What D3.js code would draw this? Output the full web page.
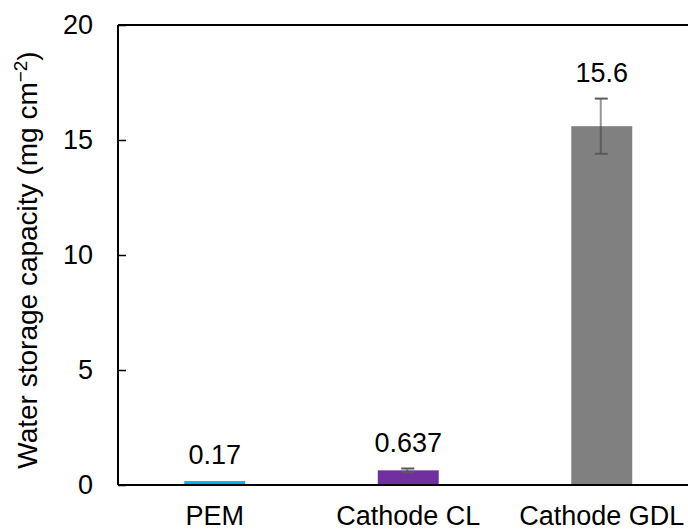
<!DOCTYPE html>
<html>
<head>
<meta charset="utf-8">
<script src="https://cdn.jsdelivr.net/npm/d3@7"></script>
<style>
  body { margin: 0; background: #fff; }
  text { font-family: Arial, "Liberation Sans", sans-serif; fill: #000; }
</style>
</head>
<body>
<div id="chart"></div>
<script>
var categories = ["PEM", "Cathode CL", "Cathode GDL"];
var values = [0.17, 0.637, 15.6];
var errors = [0, 0.08, 1.2];
var valueLabels = ["0.17", "0.637", "15.6"];
var colors = ["#00B0F0", "#7030A0", "#808080"];
var yTicks = [0, 5, 10, 15, 20];

var width = 688, height = 531;
var mLeft = 118, mTop = 25, mBottom = 485;
var fontSize = "27px";

var svg = d3.select("#chart").append("svg")
    .attr("width", width)
    .attr("height", height);

var x = d3.scaleBand()
    .domain(categories)
    .range([mLeft, mLeft + 3 * 193.5])
    .paddingInner(0.685)
    .paddingOuter(0.3425);

var y = d3.scaleLinear()
    .domain([0, 20])
    .range([mBottom, mTop]);

// bars
svg.selectAll("rect.bar")
    .data(values)
  .enter().append("rect")
    .attr("class", "bar")
    .attr("x", (d, i) => x(categories[i]))
    .attr("width", x.bandwidth())
    .attr("y", d => y(d))
    .attr("height", d => y(0) - y(d))
    .attr("fill", (d, i) => colors[i]);

// error bars
var eb = svg.selectAll("g.err")
    .data(values.map((v, i) => ({v: v, e: errors[i], c: categories[i]})).filter(d => d.e > 0))
  .enter().append("g")
    .attr("class", "err");

eb.append("line")
    .attr("x1", d => x(d.c) + x.bandwidth() / 2 - 1)
    .attr("x2", d => x(d.c) + x.bandwidth() / 2 - 1)
    .attr("y1", d => y(d.v - d.e))
    .attr("y2", d => y(d.v + d.e))
    .attr("stroke", "#404040")
    .attr("stroke-opacity", 0.55)
    .attr("stroke-width", 2);

eb.selectAll("line.cap")
    .data(d => [{c: d.c, val: d.v - d.e}, {c: d.c, val: d.v + d.e}])
  .enter().append("line")
    .attr("class", "cap")
    .attr("x1", d => x(d.c) + x.bandwidth() / 2 - 7)
    .attr("x2", d => x(d.c) + x.bandwidth() / 2 + 6)
    .attr("y1", d => y(d.val))
    .attr("y2", d => y(d.val))
    .attr("stroke", "#595959")
    .attr("stroke-width", 2);

// value labels
svg.selectAll("text.val")
    .data(values)
  .enter().append("text")
    .attr("class", "val")
    .attr("x", (d, i) => x(categories[i]) + x.bandwidth() / 2)
    .attr("y", (d, i) => y(d + errors[i]) - 17)
    .attr("text-anchor", "middle")
    .style("font-size", fontSize)
    .text((d, i) => valueLabels[i]);

// frame lines (top and bottom run off the right edge)
svg.append("line")
    .attr("x1", mLeft).attr("x2", width)
    .attr("y1", mTop).attr("y2", mTop)
    .attr("stroke", "#000").attr("stroke-width", 2);

svg.append("line")
    .attr("x1", mLeft).attr("x2", width)
    .attr("y1", mBottom).attr("y2", mBottom)
    .attr("stroke", "#000").attr("stroke-width", 2);

// y axis with inside ticks
var yAxis = svg.append("g")
    .attr("transform", "translate(" + mLeft + ",0)")
    .call(d3.axisRight(y).tickValues(yTicks).tickSize(8).tickFormat(d3.format("d")));
yAxis.select(".domain").attr("stroke", "#000").attr("stroke-width", 2)
    .attr("d", "M0," + mTop + "V" + mBottom);
yAxis.selectAll(".tick line").attr("stroke", "#000").attr("stroke-width", 1.5);
yAxis.selectAll(".tick text")
    .attr("x", -25)
    .attr("text-anchor", "end")
    .attr("fill", "#000")
    .style("font-family", "Arial, 'Liberation Sans', sans-serif")
    .style("font-size", fontSize);

// category labels
svg.selectAll("text.cat")
    .data(categories)
  .enter().append("text")
    .attr("class", "cat")
    .attr("x", d => x(d) + x.bandwidth() / 2)
    .attr("y", 525)
    .attr("text-anchor", "middle")
    .style("font-size", fontSize)
    .text(d => d);

// y axis title
var title = svg.append("text")
    .attr("transform", "translate(37,260) rotate(-90)")
    .attr("text-anchor", "middle")
    .style("font-size", "28px");
title.append("tspan").text("Water storage capacity (mg cm");
title.append("tspan").attr("dy", -10).style("font-size", "19px").text("\u22122");
title.append("tspan").attr("dy", 10).text(")");
</script>
</body>
</html>
